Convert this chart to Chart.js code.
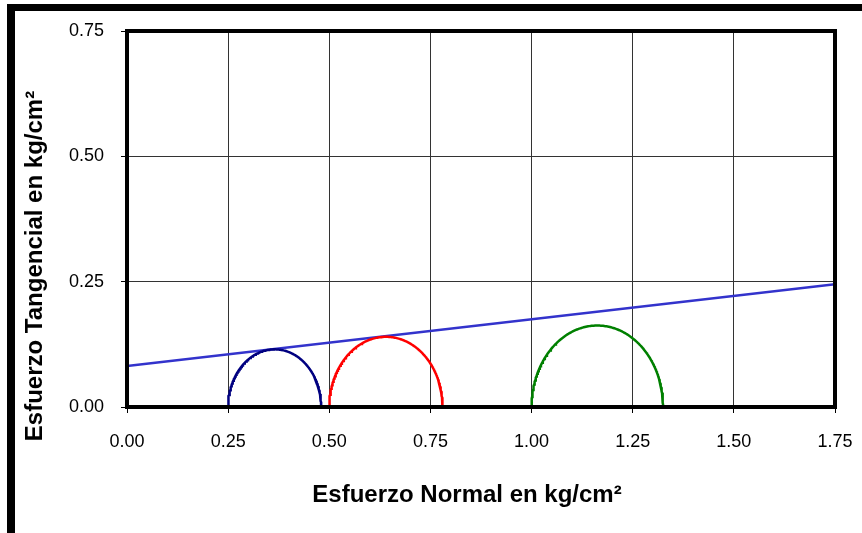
<!DOCTYPE html>
<html>
<head>
<meta charset="utf-8">
<script src="https://cdn.jsdelivr.net/npm/chart.js@4"></script>
<style>
  html, body { margin: 0; padding: 0; background: #fff; }
  #wrap { position: relative; width: 862px; height: 533px; overflow: hidden; }
  #frame { position: absolute; left: 7px; top: 4px; width: 1000px; height: 524px; border: 7px solid #000; border-left-width: 8px; pointer-events: none; }
  canvas { position: absolute; left: 0; top: 0; }
</style>
</head>
<body>
<div id="wrap">
  <canvas id="c" width="862" height="533"></canvas>
  <div id="frame"></div>
</div>
<script>
// Mohr circles: minor and major principal stresses (kg/cm²)
const sigma3 = [0.25, 0.50, 1.00];
const sigma1 = [0.48, 0.78, 1.325];
const circleColors = ['#000080', '#FF0000', '#008000'];

// Failure envelope (normal stress, shear stress)
const envelopeX = [0.00, 1.75];
const envelopeY = [0.082, 0.245];

const xTicks = [0, 0.25, 0.5, 0.75, 1.0, 1.25, 1.5, 1.75];
const yTicks = [0, 0.25, 0.5, 0.75];

const xTitle = 'Esfuerzo Normal en kg/cm²';
const yTitle = 'Esfuerzo Tangencial en kg/cm²';

function semicircle(s3, s1) {
  const c = (s1 + s3) / 2, r = (s1 - s3) / 2, pts = [];
  for (let i = 0; i <= 180; i++) {
    const a = Math.PI - i * Math.PI / 180;
    pts.push({ x: c + r * Math.cos(a), y: r * Math.sin(a) });
  }
  return pts;
}

const datasets = sigma3.map((s3, i) => ({
  data: semicircle(s3, sigma1[i]),
  borderColor: circleColors[i],
  borderWidth: 2.5,
  pointRadius: 0,
  showLine: true,
  fill: false,
  tension: 0
}));
datasets.push({
  data: envelopeX.map((x, i) => ({ x: x, y: envelopeY[i] })),
  borderColor: '#3333CC',
  borderWidth: 2.5,
  pointRadius: 0,
  showLine: true,
  fill: false
});

const framePlugin = {
  id: 'framePlugin',
  afterDraw(chart) {
    const { ctx, chartArea: a } = chart;
    ctx.save();
    ctx.strokeStyle = '#000';
    ctx.lineWidth = 4;
    ctx.strokeRect(a.left, a.top, a.right - a.left, a.bottom - a.top);
    ctx.fillStyle = '#000';
    ctx.font = 'bold 24px "Liberation Sans", Arial, sans-serif';
    ctx.textAlign = 'center';
    ctx.textBaseline = 'alphabetic';
    ctx.fillText(xTitle, 467, 502);
    ctx.translate(42, 266);
    ctx.rotate(-Math.PI / 2);
    ctx.fillText(yTitle, 0, 0);
    ctx.restore();
  }
};

new Chart(document.getElementById('c'), {
  type: 'scatter',
  data: { datasets },
  options: {
    responsive: false,
    animation: false,
    devicePixelRatio: 1,
    layout: { padding: { left: 0, top: 31, right: 27, bottom: 0 } },
    plugins: { legend: { display: false }, tooltip: { enabled: false } },
    scales: {
      x: {
        type: 'linear', min: 0, max: 1.75,
        afterBuildTicks: s => { s.ticks = xTicks.map(v => ({ value: v })); },
        afterFit: s => { s.height = 126; s.paddingLeft = 0; s.paddingRight = 0; },
        grid: { color: '#333', lineWidth: 1, tickLength: 6, tickColor: '#000', drawTicks: true },
        border: { color: '#000', width: 4 },
        ticks: { color: '#000', padding: 18, maxRotation: 0, font: { family: '"Liberation Sans", Arial, sans-serif', size: 18 }, callback: v => Number(v).toFixed(2) }
      },
      y: {
        type: 'linear', min: 0, max: 0.75,
        afterBuildTicks: s => { s.ticks = yTicks.map(v => ({ value: v })); },
        afterFit: s => { s.width = 127; s.paddingTop = 0; s.paddingBottom = 0; },
        grid: { color: '#333', lineWidth: 1, tickLength: 6, tickColor: '#000', drawTicks: true },
        border: { color: '#000', width: 4 },
        ticks: { color: '#000', padding: 17, font: { family: '"Liberation Sans", Arial, sans-serif', size: 18 }, callback: v => Number(v).toFixed(2) }
      }
    }
  },
  plugins: [framePlugin]
});
</script>
</body>
</html>
